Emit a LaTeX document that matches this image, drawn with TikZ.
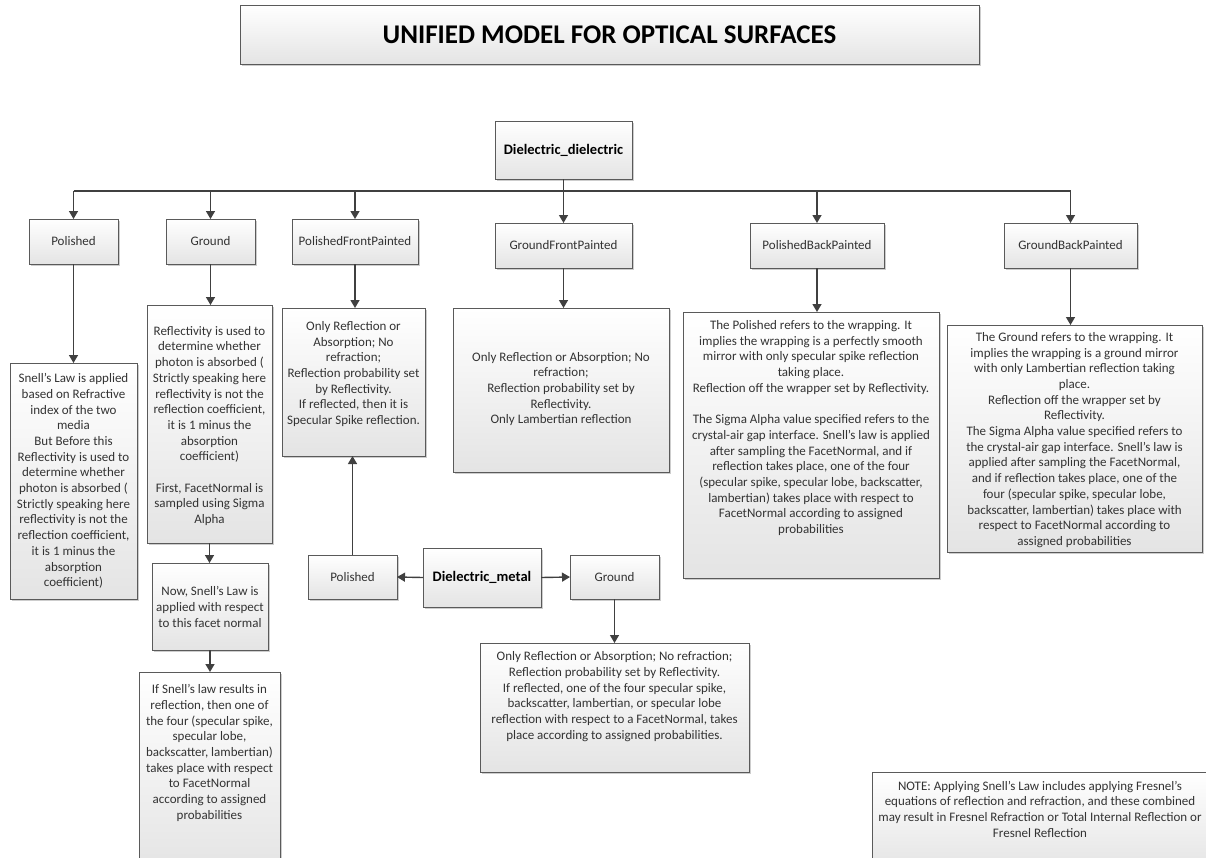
\documentclass[tikz,border=0pt]{standalone}
\usepackage{fontspec}
\setmainfont{Carlito}
\usetikzlibrary{arrows.meta,shadows}
\definecolor{boxline}{HTML}{5A5A5A}
\definecolor{boxbot}{HTML}{E4E4E4}
\definecolor{shadowc}{HTML}{CDCDCD}
\definecolor{textc}{HTML}{333333}
\definecolor{linec}{HTML}{404040}
\begin{document}
\begin{tikzpicture}[x=1pt,y=-1pt,
  box/.style={draw=boxline, line width=0.9pt, top color=white, bottom color=boxbot,
    drop shadow={shadow xshift=2pt,shadow yshift=-2pt,fill=shadowc,opacity=1},
    inner sep=0pt, outer sep=0pt, anchor=north west, align=center, text=textc,
    font=\fontsize{13}{15.7}\selectfont},
  txt/.style={inner sep=0pt, align=center, text=textc, font=\fontsize{13}{15.7}\selectfont},
  conn/.style={draw=linec, line width=1.4pt, -{Triangle[width=9pt,length=8pt]}},
  plain/.style={draw=linec, line width=1.4pt},
]
\useasboundingbox (0,0) rectangle (1206,857);

% title
\node[box, minimum width=739, minimum height=59, font=\fontsize{27}{32}\selectfont\bfseries, text=black] (title) at (240,5) {UNIFIED MODEL FOR OPTICAL SURFACES};

% root
\node[box, minimum width=137, minimum height=58, font=\fontsize{14.5}{17}\selectfont\bfseries, text=black] (dd) at (495,121) {Dielectric\_dielectric};

% first level
\node[box, minimum width=89,  minimum height=45] (pol) at (29,219)  {Polished};
\node[box, minimum width=89,  minimum height=45] (gro) at (166,219) {Ground};
\node[box, minimum width=126, minimum height=45] (pfp) at (292,219) {PolishedFrontPainted};
\node[box, minimum width=137, minimum height=45] (gfp) at (495,223) {GroundFrontPainted};
\node[box, minimum width=134, minimum height=45] (pbp) at (750,223) {PolishedBackPainted};
\node[box, minimum width=133, minimum height=45] (gbp) at (1004,223) {GroundBackPainted};

% description boxes
\node[box, minimum width=127, minimum height=236] (pd)  at (10,363)  {};
\node[box, minimum width=125, minimum height=238] (gd1) at (147,305) {};
\node[box, minimum width=116, minimum height=87]  (gd2) at (152,563) {};
\node[box, minimum width=141, minimum height=200] (gd3) at (139,672) {};
\node[box, minimum width=143, minimum height=148] (pfd) at (282,308) {};
\node[box, minimum width=216, minimum height=164] (gfd) at (453,308) {};
\node[box, minimum width=256, minimum height=266] (pbd) at (683,312) {};
\node[box, minimum width=255, minimum height=227] (gbd) at (947,325) {};

% dielectric metal
\node[box, minimum width=118, minimum height=59, font=\fontsize{14.5}{17}\selectfont\bfseries, text=black] (dm) at (423,548) {Dielectric\_metal};
\node[box, minimum width=89, minimum height=44] (pol2) at (308,555) {Polished};
\node[box, minimum width=89, minimum height=44] (gro2) at (570,555) {Ground};
\node[box, minimum width=269, minimum height=129] (g2d) at (480,643) {};

% note
\node[box, minimum width=340, minimum height=100] (note) at (872,772) {};

% texts
\node[txt] (pdt) at (73.5,481) {Snell's Law is applied\\based on Refractive\\index of the two\\media\\But Before this\\Reflectivity is used to\\determine whether\\photon is absorbed (\\Strictly speaking here\\reflectivity is not the\\reflection coefficient,\\it is 1 minus the\\absorption\\coefficient)};
\node[txt] (gd1t) at (209.5,426) {Reflectivity is used to\\determine whether\\photon is absorbed (\\Strictly speaking here\\reflectivity is not the\\reflection coefficient,\\it is 1 minus the\\absorption\\coefficient)\\[15.7pt]First, FacetNormal is\\sampled using Sigma\\Alpha};
\node[txt] (gd2t) at (210,607) {Now, Snell's Law is\\applied with respect\\to this facet normal};
\node[txt] (gd3t) at (209.5,753) {If Snell's law results in\\reflection, then one of\\the four (specular spike,\\specular lobe,\\backscatter, lambertian)\\takes place with respect\\to FacetNormal\\according to assigned\\probabilities};
\node[txt] (pfdt) at (353.5,374) {Only Reflection or\\Absorption; No\\refraction;\\Reflection probability set\\by Reflectivity.\\If reflected, then it is\\Specular Spike reflection.};
\node[txt] (gfdt) at (561,389) {Only Reflection or Absorption; No\\refraction;\\Reflection probability set by\\Reflectivity.\\Only Lambertian reflection};
\node[txt] (pbdt) at (811,428) {The Polished refers to the wrapping. It\\implies the wrapping is a perfectly smooth\\mirror with only specular spike reflection\\taking place.\\Reflection off the wrapper set by Reflectivity.\\[15.7pt]The Sigma Alpha value specified refers to the\\crystal-air gap interface. Snell's law is applied\\after sampling the FacetNormal, and if\\reflection takes place, one of the four\\(specular spike, specular lobe, backscatter,\\lambertian) takes place with respect to\\FacetNormal according to assigned\\probabilities};
\node[txt] (gbdt) at (1074.5,440) {The Ground refers to the wrapping. It\\implies the wrapping is a ground mirror\\with only Lambertian reflection taking\\place.\\Reflection off the wrapper set by\\Reflectivity.\\The Sigma Alpha value specified refers to\\the crystal-air gap interface. Snell's law is\\applied after sampling the FacetNormal,\\and if reflection takes place, one of the\\four (specular spike, specular lobe,\\backscatter, lambertian) takes place with\\respect to FacetNormal according to\\assigned probabilities};
\node[txt] (g2dt) at (614.5,696.5) {Only Reflection or Absorption; No refraction;\\Reflection probability set by Reflectivity.\\If reflected, one of the four specular spike,\\backscatter, lambertian, or specular lobe\\reflection with respect to a FacetNormal, takes\\place according to assigned probabilities.};
\node[txt] (notet) at (1040,809) {NOTE: Applying Snell's Law includes applying Fresnel's\\equations of reflection and refraction, and these combined\\may result in Fresnel Refraction or Total Internal Reflection or\\Fresnel Reflection};

% connectors
\coordinate (b1) at (73.5,191);
\coordinate (b6) at (1070.5,191);
\draw[plain] (b1) -- (b6);
\draw[conn] (dd.south) -- (gfp.north);
\draw[conn] (pol.north |- b1) -- (pol.north);
\draw[conn] (gro.north |- b1) -- (gro.north);
\draw[conn] (pfp.north |- b1) -- (pfp.north);
\draw[conn] (pbp.north |- b1) -- (pbp.north);
\draw[conn] (gbp.north |- b1) -- (gbp.north);

\draw[conn] (pol.south) -- (pol.south |- pd.north);
\draw[conn] (gro.south) -- (gro.south |- gd1.north);
\draw[conn] (pfp.south) -- (pfp.south |- pfd.north);
\draw[conn] (gfp.south) -- (gfp.south |- gfd.north);
\draw[conn] (pbp.south) -- (pbp.south |- pbd.north);
\draw[conn] (gbp.south) -- (gbp.south |- gbd.north);
\draw[conn] (gd1.south) -- (gd1.south |- gd2.north);
\draw[conn] (gd2.south) -- (gd2.south |- gd3.north);

\draw[conn] (dm.west) -- (pol2.east);
\draw[conn] (dm.east) -- (gro2.west);
\draw[conn] (pol2.north) -- (pol2.north |- pfd.south);
\draw[conn] (gro2.south) -- (gro2.south |- g2d.north);
\end{tikzpicture}
\end{document}
